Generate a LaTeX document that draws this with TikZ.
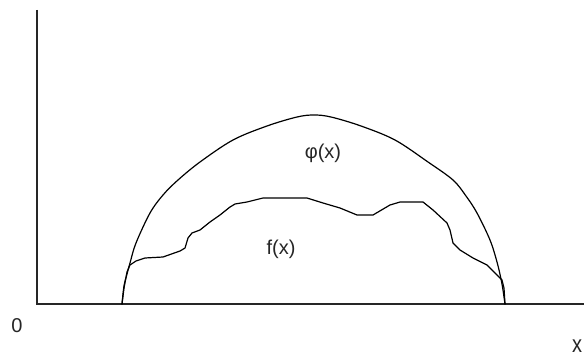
\documentclass[tikz,border=0pt]{standalone}
\usepackage{fontspec}
\setmainfont{Liberation Sans}
\begin{document}
\begin{tikzpicture}[x=1pt,y=-1pt,
  curve/.style={draw=black, line width=1.2pt, line join=round, line cap=round},
  axis/.style={draw=black!85, line width=1.4pt},
  lbl/.style={inner sep=0pt, font=\fontsize{20}{20}\selectfont, text=black!85}]
\useasboundingbox (0,0) rectangle (584,361);
\fill[white] (0,0) rectangle (584,361);
% axes
\coordinate (top) at (37,10);
\coordinate (origin) at (37,304);
\coordinate (right) at (584,304);
\draw[axis] (top) -- (origin) -- (right);
% phi(x) arc
\draw[curve] plot[smooth, tension=0.55] coordinates {
 (122,304) (124,286) (127,274) (130,263) (136,243) (150,213) (163,195) (178,180)
 (200,162) (233,140) (267,126) (297,117) (314,115) (331,117) (361,126) (395,140)
 (428,162) (453,180) (466,196) (477,213) (490,240) (497,262) (501,279) (503,290) (505,304)};
% f(x) curve
\draw[curve] (122,304) -- (124,288) -- (127,272) -- (130,265) -- (136,261) -- (145,258)
 -- (163,257) -- (180,251) -- (185,248) -- (188,238) -- (192,233) -- (200,230)
 -- (210,222) -- (220,215) -- (230,207) -- (235,204) -- (247,202) -- (263,198)
 -- (307,198) -- (323,203) -- (340,208) -- (357,215) -- (373,215) -- (390,205)
 -- (400,202) -- (423,202) -- (433,210) -- (447,223) -- (450,230) -- (453,243)
 -- (460,250) -- (473,258) -- (487,265) -- (497,275) -- (502,280) -- (504,288) -- (505,304);
% labels
\node[lbl] (phi) at (323,153) {φ(x)};
\node[lbl] (f) at (281,249) {f(x)};
\node[lbl] (zero) at (17,326) {0};
\node[lbl, yscale=1.2] (xl) at (577,346) {x};
\end{tikzpicture}
\end{document}
